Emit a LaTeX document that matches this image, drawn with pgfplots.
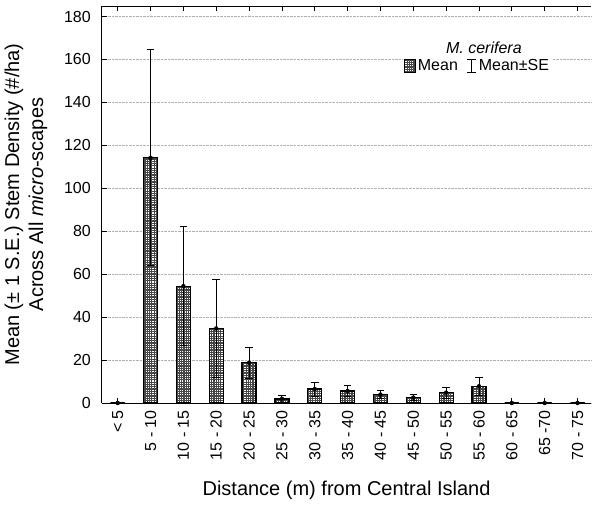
\documentclass[border=0pt]{standalone}
\usepackage{pgfplots}
\pgfplotsset{compat=1.18}
\usepackage{pgfplotstable}
\usepackage{fontspec}
\setmainfont{Liberation Sans}
\usetikzlibrary{patterns}

% fine dotted fill used for the bars
\pgfdeclarepatternformonly{finedots}{\pgfqpoint{-0.1pt}{-0.1pt}}{\pgfqpoint{2.4pt}{2.4pt}}{\pgfqpoint{2.3pt}{2.3pt}}{%
  \pgfpathrectangle{\pgfqpoint{0.6pt}{0.6pt}}{\pgfqpoint{1.1pt}{1.1pt}}\pgfusepath{fill}}

% mean stem density and standard error per distance class
\pgfplotstableread{
idx mean  se
0   0     0
1   114.2 50.3
2   54.4  27.8
3   34.7  23.0
4   18.7  7.4
5   1.9   1.8
6   6.5   3.3
7   5.6   2.5
8   3.9   1.8
9   2.5   1.5
10  4.8   2.5
11  7.8   4.2
12  0     0
13  0     0
14  0     0
}\stemdata

\begin{document}
\begin{tikzpicture}
\begin{axis}[
  scale only axis,
  width=489pt, height=397pt,
  xmin=-0.478, xmax=14.41,
  ymin=0, ymax=184.9,
  axis x line=box, axis y line=left,
  axis line style={-, line width=1pt, black},
  tick align=inside,
  major tick length=5pt,
  tick style={black, line width=0.8pt},
  xtick={0,...,14},
  xticklabels={< 5, 5 - 10, 10 - 15, 15 - 20, 20 - 25, 25 - 30, 30 - 35, 35 - 40, 40 - 45, 45 - 50, 50 - 55, 55 - 60, 60 - 65, 65 -70, 70 - 75},
  ytick={0,20,...,180},
  ymajorgrids,
  grid style={densely dotted, gray!60, line width=0.6pt},
  tick label style={font=\fontsize{16}{18}\selectfont},
  /pgf/number format/assume math mode=true,
  xticklabel style={rotate=90, anchor=east, inner sep=0pt},
  xticklabel shift=7pt,
  yticklabel style={anchor=east, inner sep=0pt},
  yticklabel shift=11pt,
  xlabel={Distance (m) from Central Island},
  xlabel style={font=\fontsize{20}{24}\selectfont, at={(axis description cs:0.5,0)}, anchor=center, yshift=-87pt},
  ylabel={Mean (± 1 S.E.) Stem Density (\#/ha)\\Across All \textit{micro}-scapes},
  ylabel style={font=\fontsize{20}{24}\selectfont, align=center, at={(axis description cs:-0.1554,0.5)}, anchor=center},
  legend style={at={(rel axis cs:0.768,0.849)}, anchor=center, draw=none, fill=white,
    font=\fontsize{16}{18}\selectfont, inner sep=1pt,
    /tikz/every even column/.append style={column sep=7pt}},
  legend columns=2,
]
% bars
\addplot[ybar, bar width=14pt, draw=black, line width=1.2pt, fill=black!72,
  postaction={pattern=finedots, pattern color=white},
  legend image code/.code={\draw[line width=0.8pt, fill=black!72, postaction={pattern=finedots, pattern color=white}] (0pt,-6.5pt) rectangle (11pt,6.5pt);}]
  table[x=idx, y=mean]{\stemdata};
\addlegendentry{Mean}
% standard error whiskers
\addplot[only marks, mark=none, black, forget plot,
  error bars/.cd, y dir=both, y explicit,
  error mark=-,
  error bar style={line width=0.9pt, black, solid},
  error mark options={rotate=90, mark size=3.8pt, line width=0.9pt, black, solid}]
  table[x=idx, y=mean, y error=se]{\stemdata};
\addlegendimage{legend image code/.code={
  \draw[line width=0.9pt] (4.5pt,-6.5pt) -- (4.5pt,6.5pt);
  \draw[line width=0.9pt] (0pt,6.5pt) -- (9pt,6.5pt);
  \draw[line width=0.9pt] (0pt,-6.5pt) -- (9pt,-6.5pt);}}
\addlegendentry{Mean±SE}
\node[font=\fontsize{16}{18}\selectfont\itshape] at (rel axis cs:0.781,0.894) {M. cerifera};
\end{axis}
\pgfresetboundingbox
\path[use as bounding box] (-102pt,-101pt) rectangle (490pt,403pt);
\end{tikzpicture}
\end{document}
